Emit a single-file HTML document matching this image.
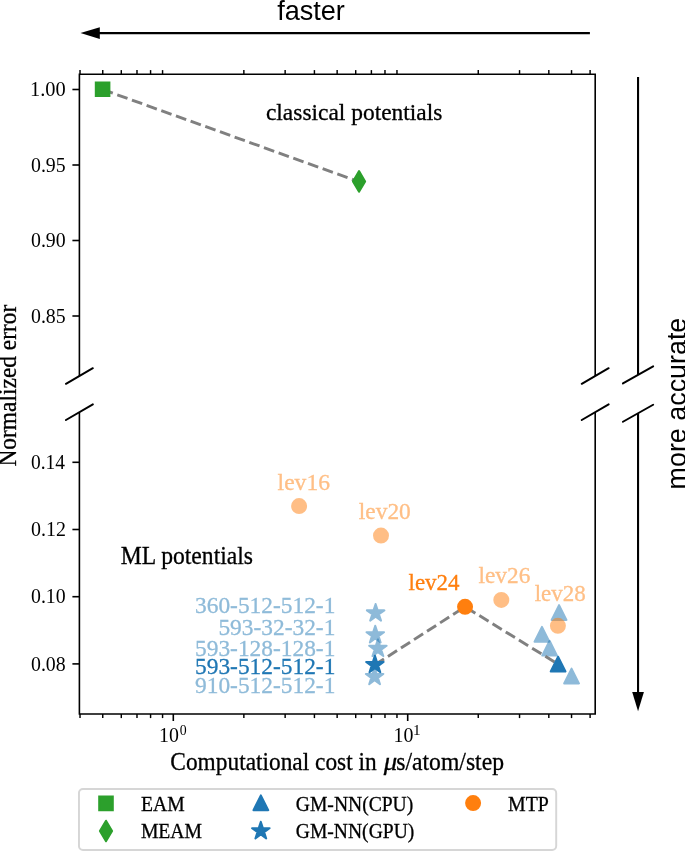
<!DOCTYPE html>
<html><head><meta charset="utf-8"><style>
html,body{margin:0;padding:0;background:#fff;}
svg{display:block;will-change:transform;}
</style></head><body>
<svg width="685" height="851" viewBox="0 0 685 851">
<rect width="685" height="851" fill="#fff"/>
<path d="M79.4,376.0 V74.2 H595.2 V376.0" fill="none" stroke="#000" stroke-width="1.6" stroke-linejoin="miter" stroke-linecap="butt"/>
<path d="M79.4,412.2 V714.0 H595.2 V412.2" fill="none" stroke="#000" stroke-width="1.6" stroke-linejoin="miter" stroke-linecap="butt"/>
<line x1="65.95" y1="383.80" x2="92.85" y2="368.20" stroke="#000" stroke-width="2.0" stroke-linecap="round"/>
<line x1="65.95" y1="420.00" x2="92.85" y2="404.40" stroke="#000" stroke-width="2.0" stroke-linecap="round"/>
<line x1="581.75" y1="383.80" x2="608.65" y2="368.20" stroke="#000" stroke-width="2.0" stroke-linecap="round"/>
<line x1="581.75" y1="420.00" x2="608.65" y2="404.40" stroke="#000" stroke-width="2.0" stroke-linecap="round"/>
<line x1="72.40" y1="89.50" x2="79.40" y2="89.50" stroke="#000" stroke-width="1.6"/>
<line x1="72.40" y1="165.00" x2="79.40" y2="165.00" stroke="#000" stroke-width="1.6"/>
<line x1="72.40" y1="240.50" x2="79.40" y2="240.50" stroke="#000" stroke-width="1.6"/>
<line x1="72.40" y1="316.00" x2="79.40" y2="316.00" stroke="#000" stroke-width="1.6"/>
<line x1="72.40" y1="462.30" x2="79.40" y2="462.30" stroke="#000" stroke-width="1.6"/>
<line x1="72.40" y1="529.50" x2="79.40" y2="529.50" stroke="#000" stroke-width="1.6"/>
<line x1="72.40" y1="596.70" x2="79.40" y2="596.70" stroke="#000" stroke-width="1.6"/>
<line x1="72.40" y1="663.90" x2="79.40" y2="663.90" stroke="#000" stroke-width="1.6"/>
<line x1="80.02" y1="74.20" x2="80.02" y2="70.10" stroke="#000" stroke-width="1.45"/>
<line x1="80.02" y1="714.00" x2="80.02" y2="718.10" stroke="#000" stroke-width="1.45"/>
<line x1="102.74" y1="74.20" x2="102.74" y2="70.10" stroke="#000" stroke-width="1.45"/>
<line x1="102.74" y1="714.00" x2="102.74" y2="718.10" stroke="#000" stroke-width="1.45"/>
<line x1="121.30" y1="74.20" x2="121.30" y2="70.10" stroke="#000" stroke-width="1.45"/>
<line x1="121.30" y1="714.00" x2="121.30" y2="718.10" stroke="#000" stroke-width="1.45"/>
<line x1="136.99" y1="74.20" x2="136.99" y2="70.10" stroke="#000" stroke-width="1.45"/>
<line x1="136.99" y1="714.00" x2="136.99" y2="718.10" stroke="#000" stroke-width="1.45"/>
<line x1="150.58" y1="74.20" x2="150.58" y2="70.10" stroke="#000" stroke-width="1.45"/>
<line x1="150.58" y1="714.00" x2="150.58" y2="718.10" stroke="#000" stroke-width="1.45"/>
<line x1="162.57" y1="74.20" x2="162.57" y2="70.10" stroke="#000" stroke-width="1.45"/>
<line x1="162.57" y1="714.00" x2="162.57" y2="718.10" stroke="#000" stroke-width="1.45"/>
<line x1="243.86" y1="74.20" x2="243.86" y2="70.10" stroke="#000" stroke-width="1.45"/>
<line x1="243.86" y1="714.00" x2="243.86" y2="718.10" stroke="#000" stroke-width="1.45"/>
<line x1="285.14" y1="74.20" x2="285.14" y2="70.10" stroke="#000" stroke-width="1.45"/>
<line x1="285.14" y1="714.00" x2="285.14" y2="718.10" stroke="#000" stroke-width="1.45"/>
<line x1="314.42" y1="74.20" x2="314.42" y2="70.10" stroke="#000" stroke-width="1.45"/>
<line x1="314.42" y1="714.00" x2="314.42" y2="718.10" stroke="#000" stroke-width="1.45"/>
<line x1="337.14" y1="74.20" x2="337.14" y2="70.10" stroke="#000" stroke-width="1.45"/>
<line x1="337.14" y1="714.00" x2="337.14" y2="718.10" stroke="#000" stroke-width="1.45"/>
<line x1="355.70" y1="74.20" x2="355.70" y2="70.10" stroke="#000" stroke-width="1.45"/>
<line x1="355.70" y1="714.00" x2="355.70" y2="718.10" stroke="#000" stroke-width="1.45"/>
<line x1="371.39" y1="74.20" x2="371.39" y2="70.10" stroke="#000" stroke-width="1.45"/>
<line x1="371.39" y1="714.00" x2="371.39" y2="718.10" stroke="#000" stroke-width="1.45"/>
<line x1="384.98" y1="74.20" x2="384.98" y2="70.10" stroke="#000" stroke-width="1.45"/>
<line x1="384.98" y1="714.00" x2="384.98" y2="718.10" stroke="#000" stroke-width="1.45"/>
<line x1="396.97" y1="74.20" x2="396.97" y2="70.10" stroke="#000" stroke-width="1.45"/>
<line x1="396.97" y1="714.00" x2="396.97" y2="718.10" stroke="#000" stroke-width="1.45"/>
<line x1="478.26" y1="74.20" x2="478.26" y2="70.10" stroke="#000" stroke-width="1.45"/>
<line x1="478.26" y1="714.00" x2="478.26" y2="718.10" stroke="#000" stroke-width="1.45"/>
<line x1="519.54" y1="74.20" x2="519.54" y2="70.10" stroke="#000" stroke-width="1.45"/>
<line x1="519.54" y1="714.00" x2="519.54" y2="718.10" stroke="#000" stroke-width="1.45"/>
<line x1="548.82" y1="74.20" x2="548.82" y2="70.10" stroke="#000" stroke-width="1.45"/>
<line x1="548.82" y1="714.00" x2="548.82" y2="718.10" stroke="#000" stroke-width="1.45"/>
<line x1="571.54" y1="74.20" x2="571.54" y2="70.10" stroke="#000" stroke-width="1.45"/>
<line x1="571.54" y1="714.00" x2="571.54" y2="718.10" stroke="#000" stroke-width="1.45"/>
<line x1="590.10" y1="74.20" x2="590.10" y2="70.10" stroke="#000" stroke-width="1.45"/>
<line x1="590.10" y1="714.00" x2="590.10" y2="718.10" stroke="#000" stroke-width="1.45"/>
<line x1="173.30" y1="714.00" x2="173.30" y2="721.00" stroke="#000" stroke-width="1.6"/>
<line x1="407.70" y1="714.00" x2="407.70" y2="721.00" stroke="#000" stroke-width="1.6"/>
<text x="29.96" y="96.25" font-family='"Liberation Serif", serif' font-size="20.0" fill="#000" textLength="35.76" lengthAdjust="spacingAndGlyphs">1.00</text>
<text x="31.01" y="171.75" font-family='"Liberation Serif", serif' font-size="20.0" fill="#000" textLength="34.69" lengthAdjust="spacingAndGlyphs">0.95</text>
<text x="31.01" y="247.25" font-family='"Liberation Serif", serif' font-size="20.0" fill="#000" textLength="34.69" lengthAdjust="spacingAndGlyphs">0.90</text>
<text x="31.01" y="322.75" font-family='"Liberation Serif", serif' font-size="20.0" fill="#000" textLength="34.69" lengthAdjust="spacingAndGlyphs">0.85</text>
<text x="31.02" y="469.05" font-family='"Liberation Serif", serif' font-size="20.0" fill="#000" textLength="34.07" lengthAdjust="spacingAndGlyphs">0.14</text>
<text x="31.00" y="536.25" font-family='"Liberation Serif", serif' font-size="20.0" fill="#000" textLength="34.89" lengthAdjust="spacingAndGlyphs">0.12</text>
<text x="31.01" y="603.45" font-family='"Liberation Serif", serif' font-size="20.0" fill="#000" textLength="34.69" lengthAdjust="spacingAndGlyphs">0.10</text>
<text x="31.01" y="670.65" font-family='"Liberation Serif", serif' font-size="20.0" fill="#000" textLength="34.69" lengthAdjust="spacingAndGlyphs">0.08</text>
<text x="159.01" y="742.00" font-family='"Liberation Serif", serif' font-size="20.0" fill="#000" textLength="19.89" lengthAdjust="spacingAndGlyphs">10</text>
<text x="179.75" y="734.90" font-family='"Liberation Serif", serif' font-size="15.0" fill="#000" textLength="6.90" lengthAdjust="spacingAndGlyphs">0</text>
<text x="393.61" y="742.00" font-family='"Liberation Serif", serif' font-size="20.0" fill="#000" textLength="19.89" lengthAdjust="spacingAndGlyphs">10</text>
<text x="413.14" y="734.90" font-family='"Liberation Serif", serif' font-size="15.0" fill="#000" textLength="7.57" lengthAdjust="spacingAndGlyphs">1</text>
<line x1="99.00" y1="33.10" x2="589.90" y2="33.10" stroke="#000" stroke-width="2.1"/>
<path d="M80.5,33.1 L99.8,27.25 L99.8,38.95 Z" fill="#000"/>
<line x1="638.05" y1="77.00" x2="638.05" y2="374.90" stroke="#000" stroke-width="2.1"/>
<line x1="638.05" y1="413.20" x2="638.05" y2="693.00" stroke="#000" stroke-width="2.1"/>
<path d="M638.05,711.3 L632.1999999999999,692 L643.9,692 Z" fill="#000"/>
<line x1="622.95" y1="383.40" x2="653.15" y2="366.40" stroke="#000" stroke-width="2.0" stroke-linecap="round"/>
<line x1="622.95" y1="421.75" x2="653.15" y2="404.75" stroke="#000" stroke-width="2.0" stroke-linecap="round"/>
<text x="277.13" y="19.70" font-family='"Liberation Sans", sans-serif' font-size="27.5" fill="#000" textLength="67.76" lengthAdjust="spacingAndGlyphs">faster</text>
<g transform="translate(685.7,487.8) rotate(-90)">
<text x="-1.61" y="0.00" font-family='"Liberation Sans", sans-serif' font-size="27.5" fill="#000" textLength="171.72" lengthAdjust="spacingAndGlyphs">more accurate</text>
</g>
<text x="265.96" y="119.80" font-family='"Liberation Serif", serif' font-size="23.4" fill="#000" textLength="176.44" lengthAdjust="spacingAndGlyphs" stroke="#000" stroke-width="0.3">classical potentials</text>
<text x="120.69" y="563.60" font-family='"Liberation Serif", serif' font-size="24.3" fill="#000" textLength="132.35" lengthAdjust="spacingAndGlyphs" stroke="#000" stroke-width="0.3">ML potentials</text>
<text x="170.37" y="769.80" font-family='"Liberation Serif", serif' font-size="24.3" fill="#000" textLength="206.33" lengthAdjust="spacingAndGlyphs" stroke="#000" stroke-width="0.3">Computational cost in</text>
<text x="383.80" y="769.80" font-family='"Liberation Serif", serif' font-size="24.3" fill="#000" font-style="italic" textLength="13.46" lengthAdjust="spacingAndGlyphs" stroke="#000" stroke-width="0.3">μ</text>
<text x="396.25" y="769.80" font-family='"Liberation Serif", serif' font-size="24.3" fill="#000" textLength="107.78" lengthAdjust="spacingAndGlyphs" stroke="#000" stroke-width="0.3">s/atom/step</text>
<g transform="translate(15.9,465.9) rotate(-90)">
<text x="-0.70" y="0.00" font-family='"Liberation Serif", serif' font-size="24.2" fill="#000" textLength="161.98" lengthAdjust="spacingAndGlyphs" stroke="#000" stroke-width="0.3">Normalized error</text>
</g>
<path d="M102.60,89.50 L359.05,181.80" fill="none" stroke="#808080" stroke-width="2.93" stroke-dasharray="10.88 4.71" stroke-linecap="butt" stroke-linejoin="round"/>
<path d="M95.80,82.40 H109.40 V96.00 H95.80 Z" fill="#2ca02c" stroke="#2ca02c" stroke-width="2.0" stroke-linejoin="miter"/>
<path d="M359.05,171.10 L365.15,181.40 L359.05,191.70 L352.95,181.40 Z" fill="#2ca02c" stroke="#2ca02c" stroke-width="2.0" stroke-linejoin="round"/>
<path d="M559.05,605.10 L566.45,619.90 L551.65,619.90 Z" fill="#1f77b4" stroke="#1f77b4" stroke-width="2.0" stroke-linejoin="round" opacity="0.5"/>
<path d="M541.95,626.90 L549.35,641.70 L534.55,641.70 Z" fill="#1f77b4" stroke="#1f77b4" stroke-width="2.0" stroke-linejoin="round" opacity="0.5"/>
<path d="M549.60,640.80 L557.00,655.60 L542.20,655.60 Z" fill="#1f77b4" stroke="#1f77b4" stroke-width="2.0" stroke-linejoin="round" opacity="0.5"/>
<path d="M571.55,668.65 L578.95,683.45 L564.15,683.45 Z" fill="#1f77b4" stroke="#1f77b4" stroke-width="2.0" stroke-linejoin="round" opacity="0.5"/>
<path d="M375.60,604.00 L373.53,610.36 L366.85,610.36 L372.26,614.29 L370.19,620.64 L375.60,616.71 L381.01,620.64 L378.94,614.29 L384.35,610.36 L377.67,610.36 Z" fill="#1f77b4" stroke="#1f77b4" stroke-width="2.0" stroke-linejoin="round" opacity="0.5"/>
<path d="M375.25,625.80 L373.18,632.16 L366.50,632.16 L371.91,636.09 L369.84,642.44 L375.25,638.51 L380.66,642.44 L378.59,636.09 L384.00,632.16 L377.32,632.16 Z" fill="#1f77b4" stroke="#1f77b4" stroke-width="2.0" stroke-linejoin="round" opacity="0.5"/>
<path d="M377.90,639.40 L375.83,645.76 L369.15,645.76 L374.56,649.69 L372.49,656.04 L377.90,652.11 L383.31,656.04 L381.24,649.69 L386.65,645.76 L379.97,645.76 Z" fill="#1f77b4" stroke="#1f77b4" stroke-width="2.0" stroke-linejoin="round" opacity="0.5"/>
<path d="M374.60,667.60 L372.53,673.96 L365.85,673.96 L371.26,677.89 L369.19,684.24 L374.60,680.31 L380.01,684.24 L377.94,677.89 L383.35,673.96 L376.67,673.96 Z" fill="#1f77b4" stroke="#1f77b4" stroke-width="2.0" stroke-linejoin="round" opacity="0.5"/>
<circle cx="299.10" cy="506.10" r="7.0" fill="#ff7f0e" stroke="#ff7f0e" stroke-width="2.0" opacity="0.5"/>
<circle cx="381.00" cy="535.60" r="7.0" fill="#ff7f0e" stroke="#ff7f0e" stroke-width="2.0" opacity="0.5"/>
<circle cx="501.30" cy="599.95" r="7.0" fill="#ff7f0e" stroke="#ff7f0e" stroke-width="2.0" opacity="0.5"/>
<circle cx="557.90" cy="625.80" r="7.0" fill="#ff7f0e" stroke="#ff7f0e" stroke-width="2.0" opacity="0.5"/>
<path d="M374.90,664.80 L465.05,606.80 L558.10,664.15" fill="none" stroke="#808080" stroke-width="2.93" stroke-dasharray="10.82 4.68" stroke-linecap="butt" stroke-linejoin="round"/>
<path d="M558.10,656.75 L565.50,671.55 L550.70,671.55 Z" fill="#1f77b4" stroke="#1f77b4" stroke-width="2.0" stroke-linejoin="round"/>
<path d="M374.90,655.60 L372.83,661.96 L366.15,661.96 L371.56,665.89 L369.49,672.24 L374.90,668.31 L380.31,672.24 L378.24,665.89 L383.65,661.96 L376.97,661.96 Z" fill="#1f77b4" stroke="#1f77b4" stroke-width="2.0" stroke-linejoin="round"/>
<circle cx="465.05" cy="606.80" r="7.0" fill="#ff7f0e" stroke="#ff7f0e" stroke-width="2.0"/>
<text x="277.63" y="489.60" font-family='"Liberation Serif", serif' font-size="23.4" fill="#ffbf86" textLength="52.32" lengthAdjust="spacingAndGlyphs" stroke="#ffbf86" stroke-width="0.3">lev16</text>
<text x="358.83" y="519.40" font-family='"Liberation Serif", serif' font-size="23.4" fill="#ffbf86" textLength="51.94" lengthAdjust="spacingAndGlyphs" stroke="#ffbf86" stroke-width="0.3">lev20</text>
<text x="408.54" y="589.60" font-family='"Liberation Serif", serif' font-size="23.4" fill="#ff7f0e" textLength="50.93" lengthAdjust="spacingAndGlyphs" stroke="#ff7f0e" stroke-width="0.3">lev24</text>
<text x="478.53" y="583.20" font-family='"Liberation Serif", serif' font-size="23.4" fill="#ffbf86" textLength="51.81" lengthAdjust="spacingAndGlyphs" stroke="#ffbf86" stroke-width="0.3">lev26</text>
<text x="534.64" y="601.00" font-family='"Liberation Serif", serif' font-size="23.4" fill="#ffbf86" textLength="51.02" lengthAdjust="spacingAndGlyphs" stroke="#ffbf86" stroke-width="0.3">lev28</text>
<text x="195.00" y="612.60" font-family='"Liberation Serif", serif' font-size="23.4" fill="#8fbbd9" stroke="#8fbbd9" stroke-width="0.3">360-512-512-1</text>
<text x="218.40" y="634.80" font-family='"Liberation Serif", serif' font-size="23.4" fill="#8fbbd9" stroke="#8fbbd9" stroke-width="0.3">593-32-32-1</text>
<text x="195.00" y="655.60" font-family='"Liberation Serif", serif' font-size="23.4" fill="#8fbbd9" stroke="#8fbbd9" stroke-width="0.3">593-128-128-1</text>
<text x="195.00" y="674.20" font-family='"Liberation Serif", serif' font-size="23.4" fill="#1f77b4" stroke="#1f77b4" stroke-width="0.3">593-512-512-1</text>
<text x="195.00" y="693.00" font-family='"Liberation Serif", serif' font-size="23.4" fill="#8fbbd9" stroke="#8fbbd9" stroke-width="0.3">910-512-512-1</text>
<rect x="78.96" y="788.96" width="477.24" height="60.94" rx="4" ry="4" fill="#fff" stroke="#d6d6d6" stroke-width="1.95"/>
<path d="M99.20,796.60 H112.80 V810.20 H99.20 Z" fill="#2ca02c" stroke="#2ca02c" stroke-width="2.0" stroke-linejoin="miter"/>
<path d="M106.00,820.70 L112.10,831.00 L106.00,841.30 L99.90,831.00 Z" fill="#2ca02c" stroke="#2ca02c" stroke-width="2.0" stroke-linejoin="round"/>
<path d="M260.85,795.35 L268.25,810.15 L253.45,810.15 Z" fill="#1f77b4" stroke="#1f77b4" stroke-width="2.0" stroke-linejoin="round"/>
<path d="M260.80,821.80 L258.73,828.16 L252.05,828.16 L257.46,832.09 L255.39,838.44 L260.80,834.51 L266.21,838.44 L264.14,832.09 L269.55,828.16 L262.87,828.16 Z" fill="#1f77b4" stroke="#1f77b4" stroke-width="2.0" stroke-linejoin="round"/>
<circle cx="473.10" cy="803.10" r="7.0" fill="#ff7f0e" stroke="#ff7f0e" stroke-width="2.0"/>
<text x="141.01" y="810.80" font-family='"Liberation Serif", serif' font-size="20.6" fill="#000" textLength="43.62" lengthAdjust="spacingAndGlyphs" stroke="#000" stroke-width="0.3">EAM</text>
<text x="140.91" y="837.80" font-family='"Liberation Serif", serif' font-size="20.6" fill="#000" textLength="61.11" lengthAdjust="spacingAndGlyphs" stroke="#000" stroke-width="0.3">MEAM</text>
<text x="295.82" y="810.80" font-family='"Liberation Serif", serif' font-size="20.6" fill="#000" textLength="117.47" lengthAdjust="spacingAndGlyphs" stroke="#000" stroke-width="0.3">GM-NN(CPU)</text>
<text x="295.82" y="838.00" font-family='"Liberation Serif", serif' font-size="20.6" fill="#000" textLength="118.47" lengthAdjust="spacingAndGlyphs" stroke="#000" stroke-width="0.3">GM-NN(GPU)</text>
<text x="508.00" y="810.80" font-family='"Liberation Serif", serif' font-size="20.6" fill="#000" textLength="40.81" lengthAdjust="spacingAndGlyphs" stroke="#000" stroke-width="0.3">MTP</text>
</svg>
</body></html>
